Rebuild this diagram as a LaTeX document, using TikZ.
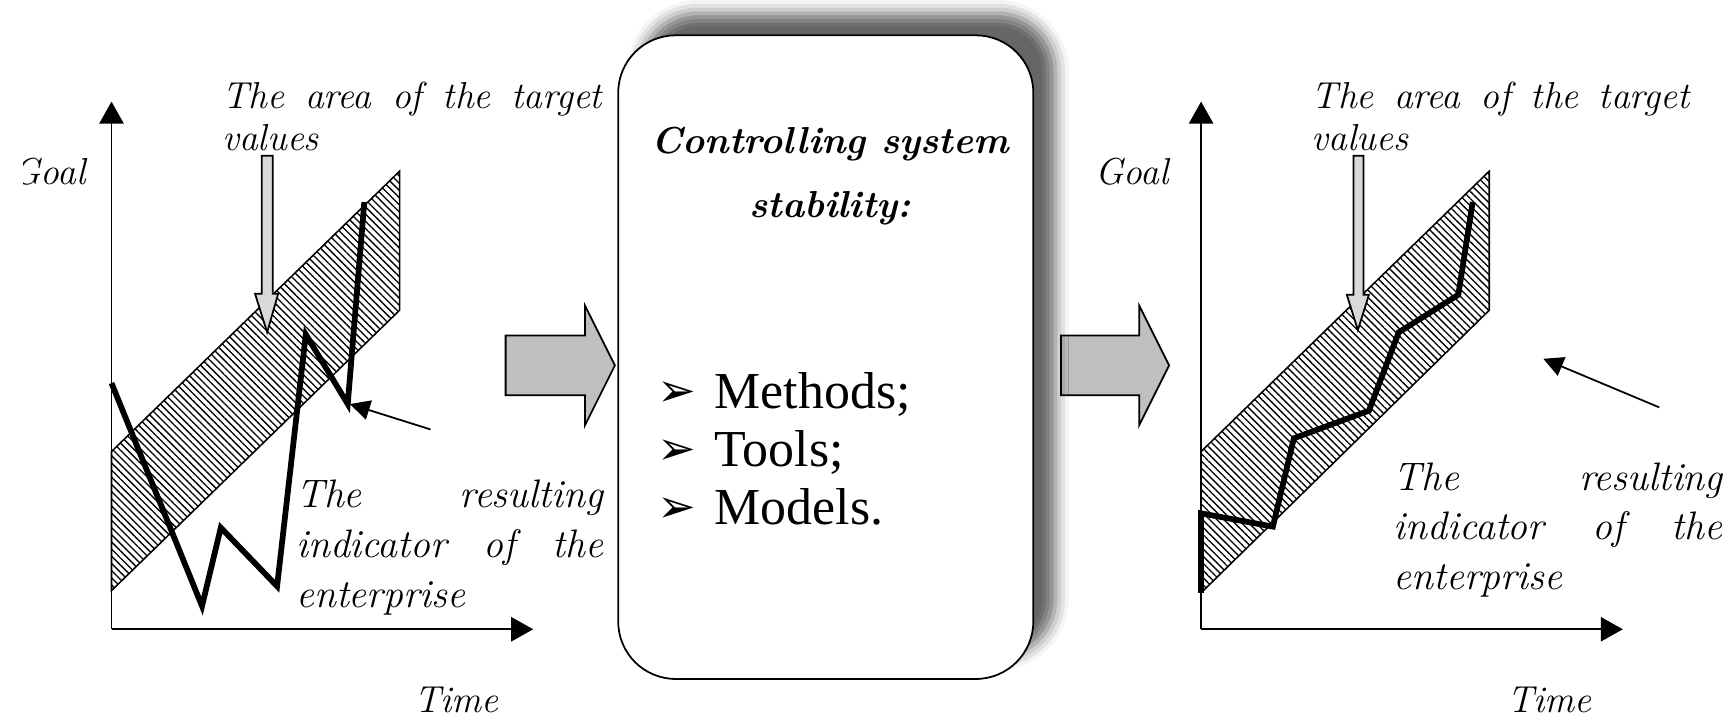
\documentclass[tikz,border=0pt]{standalone}
\usepackage{fontspec}
\newfontfamily\listfont{Liberation Serif}
\newfontfamily\symfont{DejaVu Sans}
\usetikzlibrary{arrows.meta,patterns.meta,shadows.blur}
\tikzset{
  axis/.style={line width=0.8pt,-{Triangle[length=10pt,width=11pt]}},
  band/.style={draw,line width=0.7pt,pattern={Lines[angle=-45,distance=2.3pt,line width=0.6pt]}},
  indic/.style={line width=2.6pt,line join=miter},
  pointer/.style={line width=0.8pt,-{Triangle[length=9pt,width=9pt]}},
  lbl/.style={font=\fontsize{17}{19}\selectfont\itshape,inner sep=0pt,anchor=base west},
  indtxt/.style={font=\fontsize{18}{22}\selectfont\itshape,inner sep=0pt,anchor=base west},
  ttl/.style={font=\fontsize{17}{29}\selectfont\bfseries\itshape,inner sep=0pt,anchor=base},
  itm/.style={font=\listfont\fontsize{23.5}{26}\selectfont,inner sep=0pt,anchor=base west},
  bul/.style={font=\symfont\fontsize{21}{24}\selectfont,inner sep=0pt,anchor=base west},
  blockarrow/.style={draw,line width=0.8pt,fill=gray!50,line join=miter},
  downarrow/.style={draw,line width=0.8pt,fill=gray!30,line join=miter},
  mainbox/.style={draw,line width=0.8pt,fill=white,rounded corners=26pt,
    minimum width=188pt,minimum height=291.5pt,inner sep=0pt,
    blur shadow={shadow xshift=10pt,shadow yshift=10pt,shadow blur radius=6pt,shadow opacity=60}}
}
\begin{document}
\begin{tikzpicture}[x=0.5pt,y=-0.5pt]
\useasboundingbox (0,0) rectangle (1568,650);

% ---------- left chart ----------
\coordinate (LO) at (101,570);
\coordinate (LY) at (101,92);
\coordinate (LX) at (483,570);
\draw[band] (101,409) -- (362,155) -- (362,281) -- (101,535) -- cycle;
\draw[axis] (LO) -- (LY);
\draw[axis] (LO) -- (LX);
\coordinate (L1) at (101,347);
\coordinate (L2) at (183,549);
\coordinate (L3) at (200,478);
\coordinate (L4) at (251,531);
\coordinate (L5) at (277,303);
\coordinate (L6) at (315,366);
\coordinate (L7) at (330,183);
\draw[indic] (L1) -- (L2) -- (L3) -- (L4) -- (L5) -- (L6) -- (L7);
\draw[downarrow] (237,141) -- (247,141) -- (247,266) -- (252,266) -- (242,301) -- (231,266) -- (237,266) -- cycle;
\coordinate (LPt) at (390,389);
\coordinate (LPh) at (317,366);
\draw[pointer] (LPt) -- (LPh);

\node[lbl] (la1) at (201,98) {\makebox[172pt][s]{The area of the target}};
\node[lbl] (la2) at (201,136) {values};
\begin{scope}
  \clip (21,100) rectangle (100,200);
  \node[lbl,anchor=base east] (lg) at (78,167) {Goal};
\end{scope}
\node[lbl] (lt) at (375,645) {Time};
\node[indtxt] (li1) at (268,460) {\makebox[139pt][s]{The resulting}};
\node[indtxt] (li2) at (268,505) {\makebox[139pt][s]{indicator of the}};
\node[indtxt] (li3) at (268,550) {enterprise};

% ---------- block arrows ----------
\draw[blockarrow] (458,304) -- (530,304) -- (530,277) -- (557,331) -- (530,385) -- (530,358) -- (458,358) -- cycle;
\draw[blockarrow] (961,304) -- (1032,304) -- (1032,277) -- (1059,331) -- (1032,385) -- (1032,358) -- (961,358) -- cycle;

% ---------- central box ----------
\node[mainbox] (box) at (748,323.5) {};
\node[ttl] (t1) at (752,139) {Controlling system};
\node[ttl] (t2) at (752,197) {stability:};
\node[bul] (b1) at (595,368) {➢};
\node[bul] (b2) at (595,421) {➢};
\node[bul] (b3) at (595,473) {➢};
\node[itm] (m1) at (647,370) {Methods;};
\node[itm] (m2) at (647,423) {Tools;};
\node[itm] (m3) at (647,475) {Models.};

% ---------- right chart ----------
\coordinate (RO) at (1088,570);
\coordinate (RY) at (1088,92);
\coordinate (RX) at (1470,570);
\draw[band] (1088,409) -- (1349,155) -- (1349,281) -- (1088,537) -- cycle;
\draw[axis] (RO) -- (RY);
\draw[axis] (RO) -- (RX);
\coordinate (R0) at (1088,537);
\coordinate (R1) at (1088,465);
\coordinate (R2) at (1153,477);
\coordinate (R3) at (1172,397);
\coordinate (R4) at (1240,372);
\coordinate (R5) at (1267,301);
\coordinate (R6) at (1321,267);
\coordinate (R7) at (1334,183);
\draw[indic] (R0) -- (R1) -- (R2) -- (R3) -- (R4) -- (R5) -- (R6) -- (R7);
\draw[downarrow] (1226,141) -- (1235,141) -- (1235,267) -- (1240,267) -- (1230,299) -- (1220,267) -- (1226,267) -- cycle;
\coordinate (RPt) at (1503,369);
\coordinate (RPh) at (1398,325);
\draw[pointer] (RPt) -- (RPh);

\node[lbl] (ra1) at (1188,98) {\makebox[171pt][s]{The area of the target}};
\node[lbl] (ra2) at (1188,136) {values};
\node[lbl] (rg) at (992,167) {Goal};
\node[lbl] (rt) at (1365,645) {Time};
\node[indtxt] (ri1) at (1262,444) {\makebox[149pt][s]{The resulting}};
\node[indtxt] (ri2) at (1262,489) {\makebox[149pt][s]{indicator of the}};
\node[indtxt] (ri3) at (1262,534) {enterprise};
\end{tikzpicture}
\end{document}
